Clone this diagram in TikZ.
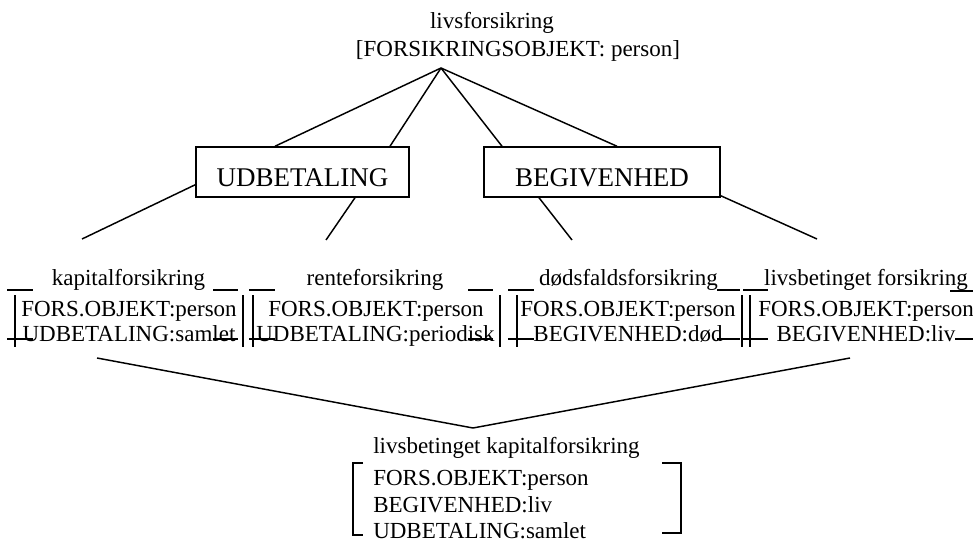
\documentclass[tikz,border=0pt]{standalone}
\usepackage{fontspec}
\setmainfont{Liberation Serif}
\usetikzlibrary{calc}
\begin{document}
\begin{tikzpicture}[x=0.75pt,y=-0.75pt,
  txt/.style={inner sep=0pt, font=\fontsize{17.25}{20}\selectfont},
  catbox/.style={draw, line width=1.1pt, inner sep=0pt,
    font=\fontsize{20.25}{24}\selectfont,
    minimum height=37.5pt, text height=26.5pt, text depth=4pt},
  link/.style={line width=1.1pt},
  frameL/.style={line width=1.5pt},
  frameR/.style={line width=0.8pt},
  corner/.style={line width=1pt}]
\useasboundingbox (0,0) rectangle (973,545);

% root concept
\node[txt, anchor=base] (root1) at (492,29) {livsforsikring};
\node[txt, anchor=base] (root2) at (518,57) {[FORSIKRINGSOBJEKT: person]};
\coordinate (apex) at (441,68);

% dimensions
\node[catbox, minimum width=159.75pt] (udb) at (302.5,172) {UDBETALING};
\node[catbox, minimum width=177pt] (beg) at (602,172) {BEGIVENHED};

\draw[link] (apex) -- ($(udb.north)+(-27.5,0)$);
\draw[link] (apex) -- ($(udb.north)+(87.5,0)$);
\draw[link] (apex) -- ($(beg.north)+(-100,0)$);
\draw[link] (apex) -- ($(beg.north)+(15,0)$);

% free ends of the branches towards the subtypes
\coordinate (e1) at (82,239);
\coordinate (e2) at (326,240);
\coordinate (e3) at (572,240);
\coordinate (e4) at (817,239);
\draw[link] ($(udb.south west)+(0,-13)$) -- (e1);
\draw[link] ($(udb.south)+(52.5,0)$) -- (e2);
\draw[link] ($(beg.south)+(-63,0)$) -- (e3);
\draw[link] ($(beg.south east)+(0,-2)$) -- (e4);

% subtype 1
\node[txt, anchor=base] (k0) at (128.5,285) {kapitalforsikring};
\node[txt, anchor=base] (k1) at (129,316) {FORS.OBJEKT:person};
\node[txt, anchor=base] (k2) at (129,341) {UDBETALING:samlet};
\draw[frameL] (15,295) -- (15,347);
\draw[frameR] (243,295) -- (243,347);
\draw[corner] (7,290) -- (33,290) (213,290) -- (238,290)
              (7,339) -- (33,339) (213,339) -- (238,339);

% subtype 2
\node[txt, anchor=base] (r0) at (375,285) {renteforsikring};
\node[txt, anchor=base] (r1) at (376,316) {FORS.OBJEKT:person};
\node[txt, anchor=base] (r2) at (375.5,341) {UDBETALING:periodisk};
\draw[frameL] (253,295) -- (253,347);
\draw[frameR] (500,295) -- (500,347);
\draw[corner] (249,290) -- (275,290) (468,290) -- (493,290)
              (249,339) -- (275,339) (468,339) -- (493,339);

% subtype 3
\node[txt, anchor=base] (d0) at (628.5,285) {dødsfaldsforsikring};
\node[txt, anchor=base] (d1) at (628,316) {FORS.OBJEKT:person};
\node[txt, anchor=base] (d2) at (628,341) {BEGIVENHED:død};
\draw[frameL] (517,295) -- (517,347);
\draw[frameR] (742,295) -- (742,347);
\draw[corner] (508,290) -- (534,290) (717,290) -- (740,290)
              (508,339) -- (534,339) (717,339) -- (740,339);

% subtype 4
\node[txt, anchor=base] (l0) at (866,285) {livsbetinget forsikring};
\node[txt, anchor=base] (l1) at (866,316) {FORS.OBJEKT:person};
\node[txt, anchor=base] (l2) at (866,341) {BEGIVENHED:liv};
\draw[frameL] (750,295) -- (750,347);
\draw[corner] (743,290) -- (768,290) (950,291) -- (973,291)
              (742,339) -- (768,339) (955,339) -- (973,339);

% unification
\coordinate (vl) at (97,358);
\coordinate (vr) at (850,358);
\coordinate (vb) at (473,428);
\draw[link] (vl) -- (vb) -- (vr);

\node[txt, anchor=base west] (c0) at (373,453) {livsbetinget kapitalforsikring};
\node[txt, anchor=base west] (c1) at (373,485) {FORS.OBJEKT:person};
\node[txt, anchor=base west] (c2) at (373,512) {BEGIVENHED:liv};
\node[txt, anchor=base west] (c3) at (373,538) {UDBETALING:samlet};
\draw[link] (363,463) -- (353,463) -- (353,535) -- (363,535);
\draw[link] (662,463) -- (681,463) -- (681,533) -- (662,533);
\end{tikzpicture}
\end{document}
